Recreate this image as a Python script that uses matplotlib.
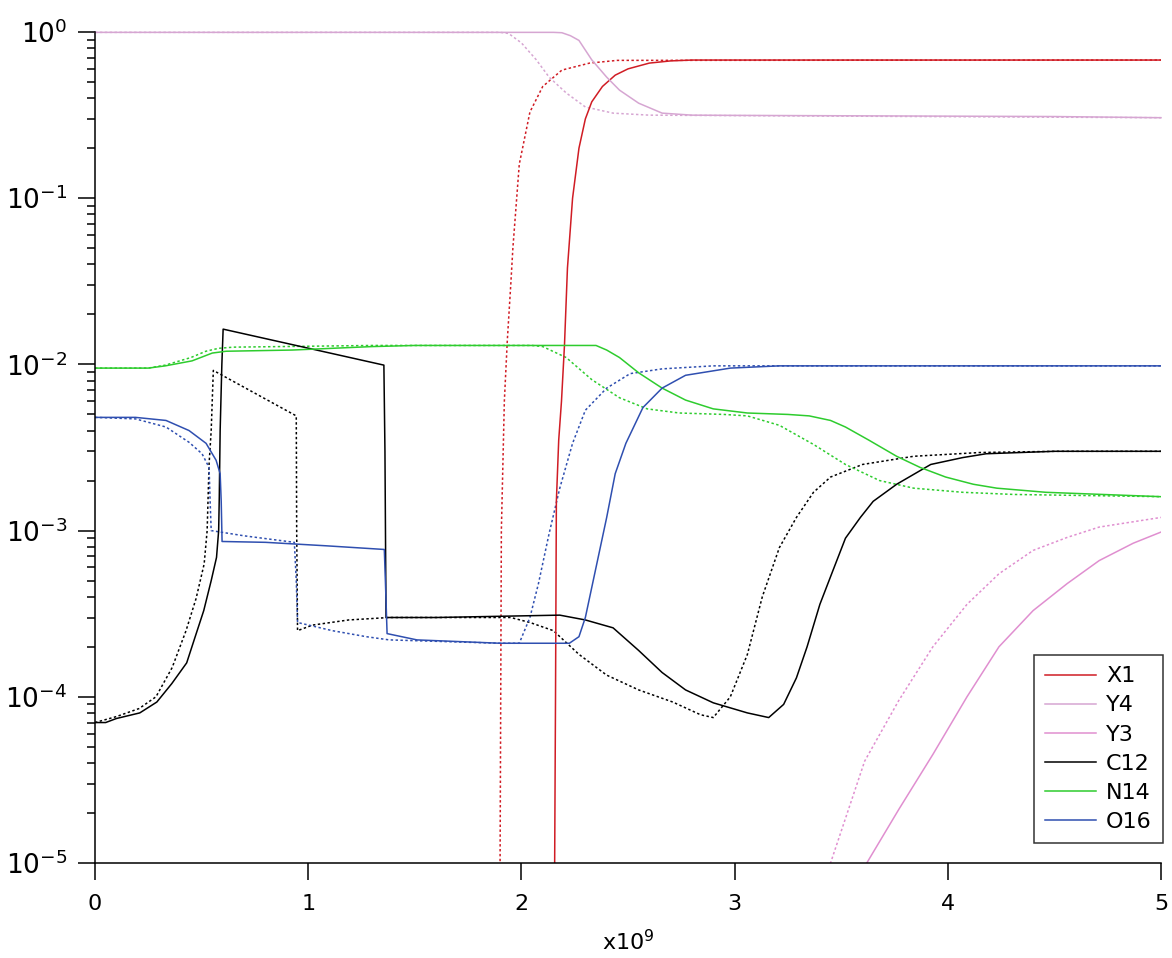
import matplotlib
matplotlib.use("Agg")
import matplotlib.pyplot as plt
from matplotlib.ticker import LogLocator, FixedLocator

# ---------------- data (time in units of 1e9) ----------------
x1_solid_t = [2.150, 2.156, 2.160, 2.164, 2.175, 2.188, 2.202, 2.216, 2.24, 2.27, 2.30, 2.33, 2.38, 2.44, 2.50, 2.60, 2.70, 2.80, 5.0]
x1_solid_v = [1e-7, 1e-5, 1e-4, 1.5e-3, 3.5e-3, 6e-3, 0.013, 0.038, 0.10, 0.20, 0.30, 0.38, 0.47, 0.55, 0.60, 0.65, 0.67, 0.678, 0.678]

x1_dot_t = [1.895, 1.900, 1.903, 1.906, 1.920, 1.934, 1.950, 1.960, 1.99, 2.04, 2.10, 2.19, 2.32, 2.45, 5.0]
x1_dot_v = [1e-7, 1e-5, 1e-4, 1e-3, 6e-3, 0.014, 0.03, 0.05, 0.16, 0.33, 0.47, 0.59, 0.65, 0.675, 0.678]

y4_solid_t = [0, 2.15, 2.19, 2.23, 2.27, 2.33, 2.40, 2.46, 2.55, 2.66, 2.80, 3.0, 4.5, 5.0]
y4_solid_v = [0.995, 0.995, 0.99, 0.95, 0.89, 0.68, 0.535, 0.447, 0.373, 0.325, 0.316, 0.315, 0.31, 0.305]

y4_dot_t = [0, 1.90, 1.94, 2.00, 2.07, 2.13, 2.21, 2.30, 2.43, 2.60, 2.80, 5.0]
y4_dot_v = [0.995, 0.995, 0.98, 0.86, 0.68, 0.535, 0.43, 0.354, 0.325, 0.316, 0.315, 0.305]

y3_solid_t = [3.55, 3.62, 3.77, 3.93, 4.09, 4.24, 4.40, 4.56, 4.71, 4.87, 5.0]
y3_solid_v = [6e-6, 1e-5, 2.1e-5, 4.5e-5, 1.0e-4, 2.0e-4, 3.3e-4, 4.8e-4, 6.6e-4, 8.4e-4, 9.8e-4]

y3_dot_t = [3.38, 3.45, 3.61, 3.77, 3.93, 4.09, 4.24, 4.40, 4.56, 4.71, 5.0]
y3_dot_v = [6e-6, 1e-5, 4.1e-5, 9.5e-5, 2.0e-4, 3.6e-4, 5.5e-4, 7.6e-4, 9.1e-4, 1.05e-3, 1.2e-3]

c12_solid_t = [0, 0.05, 0.10, 0.21, 0.29, 0.36, 0.43, 0.47, 0.51, 0.545, 0.57, 0.58, 0.583, 0.587,
               0.595, 0.601, 1.355, 1.360, 1.365, 1.60, 2.18, 2.30, 2.43, 2.55, 2.66, 2.77, 2.90, 3.06,
               3.16, 3.23, 3.29, 3.34, 3.40, 3.46, 3.52, 3.59, 3.65, 3.76, 3.92, 4.07, 4.18, 4.50, 5.0]
c12_solid_v = [7.0e-5, 7.0e-5, 7.4e-5, 8.0e-5, 9.3e-5, 1.2e-4, 1.6e-4, 2.3e-4, 3.3e-4, 5.0e-4, 6.9e-4, 1.0e-3, 1.6e-3, 4.0e-3,
               1.0e-2, 1.63e-2, 9.9e-3, 3.0e-3, 3.0e-4, 3.0e-4, 3.1e-4, 2.9e-4, 2.6e-4, 1.9e-4, 1.4e-4, 1.1e-4, 9.2e-5, 8.0e-5,
               7.5e-5, 9.0e-5, 1.3e-4, 2.0e-4, 3.6e-4, 5.7e-4, 9.0e-4, 1.2e-3, 1.5e-3, 1.9e-3, 2.5e-3, 2.75e-3, 2.9e-3, 3.0e-3, 3.0e-3]

c12_dot_t = [0, 0.10, 0.207, 0.286, 0.362, 0.427, 0.474, 0.512, 0.526, 0.535, 0.545, 0.555, 0.944, 0.946, 0.950,
             1.02, 1.19, 1.38, 1.95, 2.04, 2.15, 2.27, 2.40, 2.55, 2.71, 2.84, 2.90, 2.98, 3.06, 3.13, 3.21,
             3.29, 3.37, 3.45, 3.60, 3.84, 4.15, 4.51, 5.0]
c12_dot_v = [7.0e-5, 7.6e-5, 8.5e-5, 1.0e-4, 1.5e-4, 2.5e-4, 3.9e-4, 6.3e-4, 1.0e-3, 2.5e-3, 4.0e-3, 9.2e-3, 4.9e-3, 1.0e-3, 2.5e-4,
             2.7e-4, 2.9e-4, 3.0e-4, 3.0e-4, 2.8e-4, 2.5e-4, 1.8e-4, 1.35e-4, 1.1e-4, 9.3e-5, 7.8e-5, 7.5e-5, 1.0e-4, 1.8e-4, 4.0e-4, 7.9e-4,
             1.2e-3, 1.7e-3, 2.1e-3, 2.5e-3, 2.8e-3, 2.95e-3, 3.0e-3, 3.0e-3]

n14_solid_t = [0, 0.25, 0.33, 0.455, 0.55, 0.615, 0.925, 1.3, 1.5, 2.35, 2.40, 2.46, 2.55, 2.66, 2.77, 2.90, 3.06,
               3.25, 3.35, 3.45, 3.52, 3.63, 3.76, 3.87, 3.99, 4.12, 4.23, 4.46, 5.0]
n14_solid_v = [9.5e-3, 9.5e-3, 9.8e-3, 1.05e-2, 1.17e-2, 1.2e-2, 1.22e-2, 1.28e-2, 1.3e-2, 1.3e-2, 1.22e-2, 1.1e-2, 8.9e-3, 7.2e-3, 6.1e-3, 5.4e-3, 5.1e-3,
               5.0e-3, 4.9e-3, 4.6e-3, 4.2e-3, 3.5e-3, 2.8e-3, 2.4e-3, 2.1e-3, 1.9e-3, 1.8e-3, 1.7e-3, 1.6e-3]

n14_dot_t = [0, 0.25, 0.33, 0.45, 0.52, 0.58, 0.65, 1.3, 2.05, 2.10, 2.21, 2.33, 2.46, 2.59, 2.74, 2.95, 3.06,
             3.21, 3.37, 3.52, 3.68, 3.84, 4.07, 4.31, 5.0]
n14_dot_v = [9.5e-3, 9.5e-3, 9.9e-3, 1.1e-2, 1.2e-2, 1.25e-2, 1.27e-2, 1.3e-2, 1.3e-2, 1.28e-2, 1.1e-2, 8.1e-3, 6.3e-3, 5.4e-3, 5.1e-3, 5.0e-3, 4.9e-3,
             4.3e-3, 3.3e-3, 2.5e-3, 2.0e-3, 1.8e-3, 1.7e-3, 1.65e-3, 1.6e-3]

o16_solid_t = [0, 0.19, 0.333, 0.441, 0.521, 0.568, 0.587, 0.592, 0.596, 0.80, 1.085, 1.357, 1.362, 1.370, 1.51,
               1.90, 2.225, 2.27, 2.30, 2.35, 2.40, 2.44, 2.49, 2.57, 2.66, 2.77, 2.98, 3.21, 5.0]
o16_solid_v = [4.8e-3, 4.8e-3, 4.6e-3, 4.0e-3, 3.35e-3, 2.65e-3, 2.2e-3, 1.5e-3, 8.6e-4, 8.5e-4, 8.1e-4, 7.7e-4, 5.0e-4, 2.4e-4, 2.2e-4,
               2.1e-4, 2.1e-4, 2.3e-4, 3.0e-4, 6.0e-4, 1.2e-3, 2.2e-3, 3.35e-3, 5.5e-3, 7.2e-3, 8.6e-3, 9.5e-3, 9.8e-3, 9.8e-3]

o16_dot_t = [0, 0.19, 0.333, 0.441, 0.502, 0.535, 0.540, 0.545, 0.70, 0.935, 0.944, 0.950, 1.113, 1.272, 1.38,
             1.90, 1.99, 2.04, 2.08, 2.13, 2.18, 2.24, 2.30, 2.40, 2.51, 2.66, 2.90, 5.0]
o16_dot_v = [4.8e-3, 4.7e-3, 4.2e-3, 3.4e-3, 2.9e-3, 2.4e-3, 1.5e-3, 1.0e-3, 9.3e-4, 8.5e-4, 5.0e-4, 2.8e-4, 2.5e-4, 2.3e-4, 2.2e-4,
             2.1e-4, 2.1e-4, 3.0e-4, 4.8e-4, 9.6e-4, 1.8e-3, 3.35e-3, 5.3e-3, 7.2e-3, 8.8e-3, 9.4e-3, 9.8e-3, 9.8e-3]

series_names = ["X1", "Y4", "Y3", "C12", "N14", "O16"]
xticks_vals = [0, 1, 2, 3, 4, 5]

# ---------------- styling ----------------
colors = {"X1": "#d01c24", "Y4": "#d6a6d2", "Y3": "#e08fd0",
          "C12": "#000000", "N14": "#2ecc2e", "O16": "#2f4fb0"}
solid = {"X1": (x1_solid_t, x1_solid_v), "Y4": (y4_solid_t, y4_solid_v), "Y3": (y3_solid_t, y3_solid_v),
         "C12": (c12_solid_t, c12_solid_v), "N14": (n14_solid_t, n14_solid_v), "O16": (o16_solid_t, o16_solid_v)}
dotted = {"X1": (x1_dot_t, x1_dot_v), "Y4": (y4_dot_t, y4_dot_v), "Y3": (y3_dot_t, y3_dot_v),
          "C12": (c12_dot_t, c12_dot_v), "N14": (n14_dot_t, n14_dot_v), "O16": (o16_dot_t, o16_dot_v)}

plt.rcParams['font.family'] = ['DejaVu Sans']

fig = plt.figure(figsize=(11.72, 9.58), dpi=100)
ax = fig.add_axes([95/1172, 1 - 863/958, (1161 - 95)/1172, (863 - 32)/958])

lw = 1.1
handles = []
for name in series_names:
    noclip = name == "Y4"
    t, v = dotted[name]
    ax.plot(t, v, color=colors[name], lw=lw, ls=(0, (1.6, 1.6)), clip_on=not noclip)
for name in series_names:
    noclip = name == "Y4"
    t, v = solid[name]
    h, = ax.plot(t, v, color=colors[name], lw=lw, ls='-', clip_on=not noclip, label=name)
    handles.append(h)

ax.set_yscale('log')
ax.set_xlim(0, 5)
ax.set_ylim(1e-5, 1.0)
ax.xaxis.set_major_locator(FixedLocator(xticks_vals))
ax.set_xticklabels([str(v) for v in xticks_vals])
ax.yaxis.set_major_locator(LogLocator(base=10, numticks=10))
ax.yaxis.set_minor_locator(LogLocator(base=10, subs=range(2, 10), numticks=20))

for s in ['top', 'right']:
    ax.spines[s].set_visible(False)
for s in ['left', 'bottom']:
    ax.spines[s].set_linewidth(1.1)

ax.tick_params(axis='y', which='major', direction='out', length=12, width=1.1, labelsize=19, pad=8)
ax.tick_params(axis='y', which='minor', direction='out', length=6, width=1.1)
ax.tick_params(axis='x', which='major', direction='out', length=12, width=1.1, labelsize=16, pad=10)
ax.tick_params(axis='x', which='minor', bottom=False)

ax.set_xlabel('x10$^9$', fontsize=16, labelpad=11)

leg = ax.legend(handles=handles, loc='lower right', bbox_to_anchor=(1163/1172, 1 - 843/958),
                bbox_transform=fig.transFigure, frameon=True, fancybox=False, fontsize=16,
                handlelength=2.3, handletextpad=0.45, labelspacing=0.41, borderpad=0.5,
                borderaxespad=0)
leg.get_frame().set_edgecolor('black')
leg.get_frame().set_linewidth(1.1)

fig.savefig('out.png', dpi=100)
